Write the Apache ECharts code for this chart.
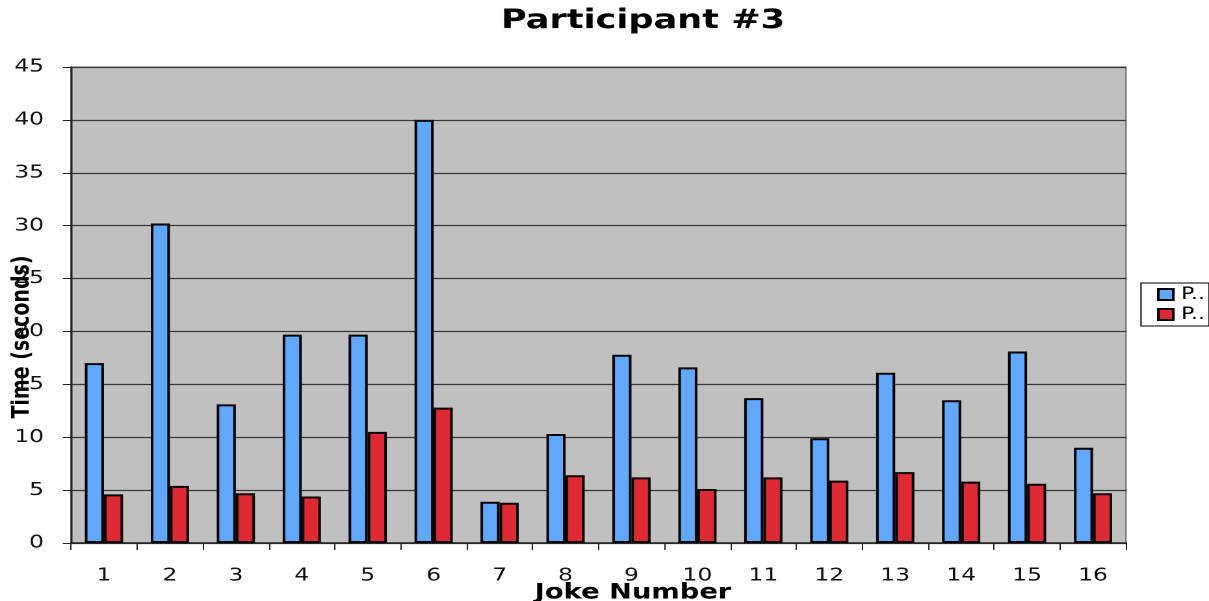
<!DOCTYPE html>
<html>
<head>
<meta charset="utf-8">
<script src="https://cdn.jsdelivr.net/npm/echarts@6/dist/echarts.min.js"></script>
<style>
  html, body { margin: 0; padding: 0; background: #ffffff; overflow: hidden; }
  /* the chart is drawn at a narrower width and widened horizontally */
  #chart { width: 930px; height: 601px; transform: scaleX(1.3); transform-origin: 0 0; }
</style>
</head>
<body>
<div id="chart"></div>
<script>
// Joke numbers along the x axis
const jokes = ['1','2','3','4','5','6','7','8','9','10','11','12','13','14','15','16'];
// Time in seconds, first series (blue)
const seriesA = [17.0, 30.2, 13.1, 19.7, 19.7, 40.0, 3.9, 10.3, 17.8, 16.6, 13.7, 9.9, 16.1, 13.5, 18.1, 9.0];
// Time in seconds, second series (red)
const seriesB = [4.6, 5.4, 4.7, 4.4, 10.5, 12.8, 3.8, 6.4, 6.2, 5.1, 6.2, 5.9, 6.7, 5.8, 5.6, 4.7];
const seriesNames = ['P1', 'P2'];
const legendLabel = 'P..';
const yMin = 0, yMax = 45, yStep = 5;

// horizontal stretch applied by the CSS transform
const SX = 1.3;
const px = v => v / SX;

const font = '"DejaVu Sans", Verdana, sans-serif';
const chart = echarts.init(document.getElementById('chart'), null, { renderer: 'canvas', devicePixelRatio: 2 });

chart.setOption({
  backgroundColor: '#ffffff',
  animation: false,
  legend: {
    orient: 'vertical',
    left: px(1141),
    top: 283,
    backgroundColor: '#ffffff',
    borderColor: '#000',
    borderWidth: 1,
    padding: [3, px(4), 3, px(16)],
    itemGap: 3,
    itemWidth: px(15),
    itemHeight: 11,
    icon: 'rect',
    formatter: function () { return legendLabel; },
    textStyle: { fontFamily: font, fontSize: 17, color: '#000', padding: [0, 0, 0, 1] },
    data: seriesNames
  },
  grid: {
    left: px(71), right: px(83), top: 67, bottom: 58,
    show: true,
    backgroundColor: '#c0c0c0',
    borderColor: '#666',
    borderWidth: 1,
    containLabel: false
  },
  xAxis: {
    type: 'category',
    data: jokes,
    boundaryGap: true,
    axisLine: { show: true, lineStyle: { color: '#222', width: 1.5 } },
    axisTick: { show: true, length: 7, lineStyle: { color: '#222' } },
    axisLabel: { fontFamily: font, fontSize: 18, color: '#111', margin: 24 },
    splitLine: { show: false }
  },
  yAxis: {
    type: 'value',
    min: yMin, max: yMax, interval: yStep,
    axisLine: { show: true, lineStyle: { color: '#222', width: 1.5 } },
    axisTick: { show: true, length: px(8), lineStyle: { color: '#222' } },
    axisLabel: { fontFamily: font, fontSize: 18, color: '#111', margin: px(27) },
    splitLine: { show: true, lineStyle: { color: '#383838', width: 1.2 } }
  },
  graphic: [
    {
      type: 'text',
      x: px(643), y: 21,
      style: {
        text: 'Participant #3',
        font: 'bold 27px ' + font,
        fill: '#000',
        textAlign: 'center',
        textVerticalAlign: 'middle'
      }
    },
    {
      type: 'text',
      x: px(22), y: 337,
      rotation: Math.PI / 2,
      style: {
        text: 'Time (seconds)',
        font: 'bold 19px ' + font,
        fill: '#000',
        textAlign: 'center',
        textVerticalAlign: 'middle'
      }
    },
    {
      type: 'text',
      x: px(633), y: 593,
      style: {
        text: 'Joke Number',
        font: 'bold 21px ' + font,
        fill: '#000',
        textAlign: 'center',
        textVerticalAlign: 'middle'
      }
    }
  ],
  series: [
    {
      name: seriesNames[0],
      type: 'bar',
      data: seriesA,
      barWidth: '29%',
      barGap: '0%',
      itemStyle: { color: '#63a8ff', borderColor: '#000', borderWidth: 2 }
    },
    {
      name: seriesNames[1],
      type: 'bar',
      data: seriesB,
      barWidth: '29%',
      barGap: '0%',
      itemStyle: { color: '#dd2a33', borderColor: '#000', borderWidth: 2 }
    }
  ]
});
</script>
</body>
</html>
